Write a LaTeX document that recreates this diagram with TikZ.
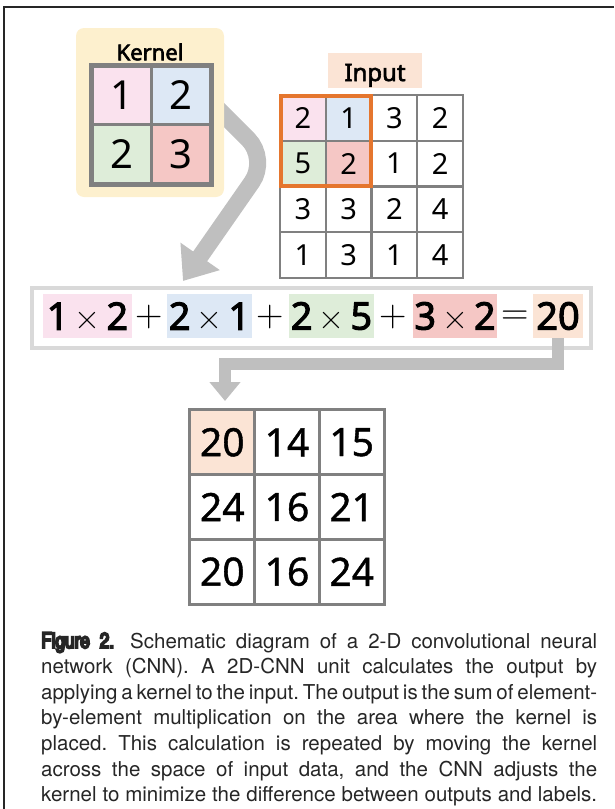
\documentclass[tikz,border=0pt]{standalone}
\usepackage{fontspec}
\setmainfont{Noto Sans}[BoldFont={Noto Sans}, BoldFeatures={FakeBold=2.6}]
\newfontfamily\medfont[FakeBold=1.0]{Noto Sans}
\newfontfamily\opfont{Latin Modern Roman}
\newfontfamily\capfont{TeX Gyre Heros}
\newfontfamily\figfont[FakeStretch=0.8,FakeBold=9]{TeX Gyre Heros}
\usetikzlibrary{arrows.meta,backgrounds,fit}
\definecolor{kpink}{RGB}{250,226,238}
\definecolor{kblue}{RGB}{221,232,245}
\definecolor{kgreen}{RGB}{222,237,217}
\definecolor{kred}{RGB}{245,199,197}
\definecolor{kpeach}{RGB}{251,228,213}
\definecolor{kyellow}{RGB}{253,240,206}
\definecolor{gridgray}{RGB}{128,128,128}
\definecolor{korange}{RGB}{229,118,46}
\definecolor{eqborder}{RGB}{217,217,217}
\definecolor{arrowgray}{RGB}{191,191,191}
\tikzset{
  kcell/.style={draw=gridgray, line width=3pt, minimum width=59pt, minimum height=58.5pt, inner sep=0pt, font=\fontsize{40}{40}\selectfont},
  icell/.style={draw=gridgray, line width=2pt, fill=white, minimum size=45.75pt, inner sep=0pt, font=\fontsize{29}{29}\selectfont},
  ocell/.style={draw=gridgray, line width=3pt, fill=white, minimum size=64.67pt, inner sep=0pt, font=\medfont\fontsize{39}{39}\selectfont},
  hl/.style={minimum height=44pt, inner sep=0pt, font=\fontsize{38}{38}\selectfont},
  eqop/.style={inner sep=0pt, font=\opfont\fontsize{38}{38}\selectfont},
  bigarrow/.style={draw=arrowgray, line width=17pt, rounded corners=28pt, -{Triangle[width=46pt,length=30pt]}},
  smallarrow/.style={draw=arrowgray, line width=12pt, line join=miter, -{Triangle[width=30pt,length=19pt]}},
}
\newcommand{\mytimes}{{\opfont\fontsize{36}{36}\selectfont\,×\,}}
\begin{document}
\begin{tikzpicture}[x=1pt,y=-1pt]
\useasboundingbox (0,0) rectangle (614,809);
% frame
\draw[line width=2pt, black!85] (614,7) -- (4,7) -- (4,809);

% kernel
\node (kbox) [fill=kyellow, rounded corners=8pt, minimum width=148pt, minimum height=169pt, inner sep=0pt] at (150,112.5) {};
\node (klabel) [inner sep=0pt, font=\fontsize{22}{22}\selectfont\bfseries] at (150,52) {Kernel};
\node (k11) [kcell, fill=kpink] at (121.5,95.25) {1};
\node (k12) [kcell, fill=kblue] at (180.5,95.25) {2};
\node (k21) [kcell, fill=kgreen] at (121.5,153.75) {2};
\node (k22) [kcell, fill=kred] at (180.5,153.75) {3};
\draw[gridgray, line width=4pt] (k11.north west) rectangle (k22.south east);

% input
\node (ilabel) [fill=kpeach, minimum width=94pt, minimum height=35pt, inner sep=0pt, text height=21pt, text depth=0pt, font=\fontsize{24}{24}\selectfont\bfseries] at (375,70.5) {Input};
\node (i11) [icell, fill=kpink] at (302.9,117.9) {2};
\node (i12) [icell, fill=kblue] at (348.6,117.9) {1};
\node (i13) [icell] at (394.4,117.9) {3};
\node (i14) [icell] at (440.1,117.9) {2};
\node (i21) [icell, fill=kgreen] at (302.9,163.6) {5};
\node (i22) [icell, fill=kred] at (348.6,163.6) {2};
\node (i23) [icell] at (394.4,163.6) {1};
\node (i24) [icell] at (440.1,163.6) {2};
\node (i31) [icell] at (302.9,209.4) {3};
\node (i32) [icell] at (348.6,209.4) {3};
\node (i33) [icell] at (394.4,209.4) {2};
\node (i34) [icell] at (440.1,209.4) {4};
\node (i41) [icell] at (302.9,255.1) {1};
\node (i42) [icell] at (348.6,255.1) {3};
\node (i43) [icell] at (394.4,255.1) {1};
\node (i44) [icell] at (440.1,255.1) {4};
\node (win) [draw=korange, line width=4pt, fit=(i11)(i22), inner sep=-1.5pt] {};

% equation
\node (eqbox) [draw=eqborder, line width=4pt, minimum width=559pt, minimum height=60pt, inner sep=0pt] at (311.5,318) {};
\node (e1) [hl, fill=kpink, minimum width=89pt] at (87.5,316) {\textbf{1}\mytimes\textbf{2}};
\node (p1) [eqop] at (149.5,317) {+};
\node (e2) [hl, fill=kblue, minimum width=85pt] at (209.5,316) {\textbf{2}\mytimes\textbf{1}};
\node (p2) [eqop] at (270.5,317) {+};
\node (e3) [hl, fill=kgreen, minimum width=85pt] at (331.5,316) {\textbf{2}\mytimes\textbf{5}};
\node (p3) [eqop] at (393.5,317) {+};
\node (e4) [hl, fill=kred, minimum width=84pt] at (455,316) {\textbf{3}\mytimes\textbf{2}};
\node (eqs) [eqop] at (515,318) {=};
\node (o20) [hl, fill=kpeach, minimum width=50pt] at (558,316) {\textbf{20}};

% output
\node (o11) [ocell, fill=kpeach] at (222.3,442.3) {20};
\node (o12) [ocell] at (287,442.3) {14};
\node (o13) [ocell] at (351.7,442.3) {15};
\node (o21) [ocell] at (222.3,507) {24};
\node (o22) [ocell] at (287,507) {16};
\node (o23) [ocell] at (351.7,507) {21};
\node (o31) [ocell] at (222.3,571.7) {20};
\node (o32) [ocell] at (287,571.7) {16};
\node (o33) [ocell] at (351.7,571.7) {24};

% arrows
\coordinate (a1s) at (212,103);
\coordinate (a1c) at (268,159);
\coordinate (a1e) at (183,281);
\coordinate (a2e) at (225,401);
\begin{scope}[on background layer]
\draw[bigarrow] (a1s) -- (a1c) -- (a1e);
\end{scope}
\draw[smallarrow] (o20.south) -- ++(0,26) -| (a2e);

% caption
\node (cap) [anchor=base west, inner sep=0pt, text=black!85] at (41,648) {\capfont\fontsize{20.5}{25.6}\selectfont\frenchspacing
\spaceskip=0.278em plus 0.4em minus 0.12em
\vtop{\baselineskip=25.6pt
\hbox to 556pt{{\figfont\fontsize{21.5}{25.6}\selectfont Figure 2.}\hskip 14pt plus 4pt Schematic diagram of a 2-D convolutional neural}
\hbox to 556pt{network (CNN). A 2D-CNN unit calculates the output by}
\hbox to 556pt{applying a kernel to the input. The output is the sum of element-}
\hbox to 556pt{by-element multiplication on the area where the kernel is}
\hbox to 556pt{placed. This calculation is repeated by moving the kernel}
\hbox to 556pt{across the space of input data, and the CNN adjusts the}
\hbox to 556pt{kernel to minimize the difference between outputs and labels.}}};
\end{tikzpicture}
\end{document}
